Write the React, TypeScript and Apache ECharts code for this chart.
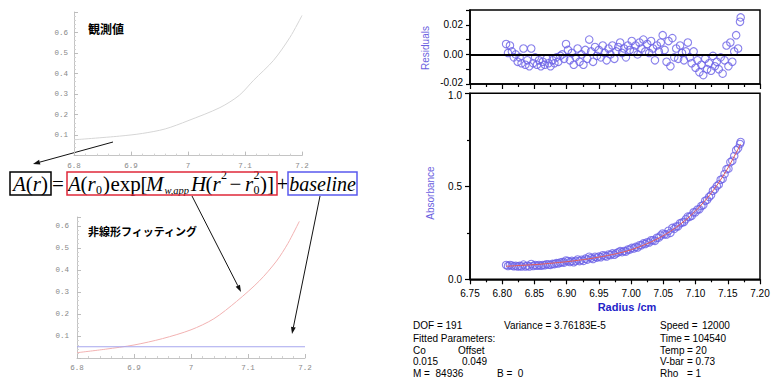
import React, { useEffect, useRef } from 'react';
import * as echarts from 'echarts';

// ---- Right panel: measured points (radius /cm, absorbance, residuals) ----
const radius = [
  6.806, 6.809, 6.812, 6.815, 6.818, 6.821, 6.824, 6.827, 6.830, 6.833,
  6.836, 6.839, 6.842, 6.845, 6.848, 6.851, 6.854, 6.857, 6.860, 6.863,
  6.866, 6.869, 6.872, 6.875, 6.878, 6.881, 6.884, 6.887, 6.890, 6.893,
  6.896, 6.899, 6.902, 6.905, 6.908, 6.911, 6.914, 6.917, 6.920, 6.923,
  6.926, 6.929, 6.932, 6.935, 6.938, 6.941, 6.944, 6.947, 6.950, 6.953,
  6.956, 6.959, 6.962, 6.965, 6.968, 6.971, 6.974, 6.977, 6.980, 6.983,
  6.986, 6.989, 6.992, 6.995, 6.998, 7.001, 7.004, 7.007, 7.010, 7.013,
  7.016, 7.019, 7.022, 7.025, 7.028, 7.031, 7.034, 7.037, 7.040, 7.043,
  7.046, 7.049, 7.052, 7.055, 7.058, 7.061, 7.064, 7.067, 7.070, 7.073,
  7.076, 7.079, 7.082, 7.085, 7.088, 7.091, 7.094, 7.097, 7.100, 7.103,
  7.106, 7.109, 7.112, 7.115, 7.118, 7.121, 7.124, 7.127, 7.130, 7.133,
  7.136, 7.139, 7.142, 7.145, 7.148, 7.151, 7.154, 7.157, 7.160, 7.163,
  7.166, 7.169, 7.170,
];
const absorbance = [
  0.077, 0.072, 0.077, 0.074, 0.070, 0.073, 0.069, 0.072, 0.069, 0.079,
  0.069, 0.073, 0.069, 0.082, 0.072, 0.077, 0.073, 0.077, 0.073, 0.077,
  0.076, 0.081, 0.079, 0.078, 0.083, 0.082, 0.087, 0.085, 0.090, 0.092,
  0.090, 0.101, 0.098, 0.093, 0.099, 0.092, 0.098, 0.106, 0.098, 0.105,
  0.099, 0.111, 0.106, 0.121, 0.114, 0.109, 0.121, 0.117, 0.122, 0.119,
  0.129, 0.126, 0.123, 0.133, 0.131, 0.139, 0.132, 0.140, 0.145, 0.151,
  0.146, 0.152, 0.149, 0.160, 0.160, 0.169, 0.166, 0.174, 0.171, 0.183,
  0.183, 0.193, 0.190, 0.199, 0.198, 0.210, 0.210, 0.207, 0.223, 0.224,
  0.235, 0.246, 0.242, 0.241, 0.261, 0.250, 0.276, 0.271, 0.284, 0.285,
  0.301, 0.305, 0.308, 0.323, 0.337, 0.336, 0.342, 0.360, 0.360, 0.375,
  0.377, 0.394, 0.399, 0.422, 0.427, 0.443, 0.452, 0.476, 0.484, 0.501,
  0.510, 0.535, 0.540, 0.566, 0.592, 0.595, 0.630, 0.637, 0.663, 0.694,
  0.704, 0.727, 0.738,
];
const residuals = [
  0.007, 0.001, 0.006, 0.002, -0.002, 0.000, -0.005, -0.002, -0.006, 0.004,
  -0.007, -0.004, -0.008, 0.004, -0.006, -0.002, -0.007, -0.004, -0.008, -0.005,
  -0.007, -0.003, -0.006, -0.008, -0.004, -0.006, -0.002, -0.005, -0.001, 0.000,
  -0.003, 0.007, 0.003, -0.004, 0.001, -0.007, -0.002, 0.004, -0.005, 0.000,
  -0.007, 0.003, -0.003, 0.010, 0.002, -0.005, 0.005, -0.001, 0.003, -0.002,
  0.006, 0.001, -0.004, 0.004, 0.000, 0.006, -0.003, 0.002, 0.005, 0.008,
  0.001, 0.004, -0.002, 0.006, 0.003, 0.009, 0.002, 0.006, 0.000, 0.008,
  0.004, 0.010, 0.002, 0.007, 0.001, 0.009, 0.004, -0.004, 0.006, 0.002,
  0.008, 0.013, 0.003, -0.005, 0.009, -0.008, 0.011, -0.002, 0.004, -0.003,
  0.006, 0.001, -0.004, 0.002, 0.008, -0.002, -0.006, 0.002, -0.009, -0.004,
  -0.012, -0.007, -0.014, -0.003, -0.010, -0.006, -0.011, -0.001, -0.008, -0.005,
  -0.010, -0.002, -0.013, -0.004, 0.006, -0.008, 0.008, -0.005, 0.002, 0.013,
  0.004, 0.022, 0.025,
];
// fitted curve (red line) in the right panel
const fitRadius = [6.806, 6.821, 6.836, 6.851, 6.866, 6.881, 6.896, 6.911, 6.926, 6.941, 6.956, 6.971, 6.986,
  7.001, 7.016, 7.031, 7.046, 7.061, 7.076, 7.091, 7.106, 7.121, 7.136, 7.151, 7.166, 7.170];
const fitAbs = [0.070, 0.073, 0.076, 0.079, 0.083, 0.088, 0.093, 0.099, 0.106, 0.114, 0.123, 0.133, 0.145,
  0.160, 0.179, 0.201, 0.227, 0.258, 0.295, 0.338, 0.389, 0.449, 0.520, 0.603, 0.700, 0.728];

// ---- Left panels ----
const obsRadius = [6.8, 6.88, 6.92, 6.96, 7.0, 7.056, 7.09, 7.115, 7.15, 7.179, 7.2];
const obsValue = [0.077, 0.095, 0.108, 0.13, 0.17, 0.234, 0.294, 0.367, 0.464, 0.577, 0.683];
const nlRadius = [6.8, 6.85, 6.9, 6.95, 7.0, 7.04, 7.08, 7.12, 7.15, 7.17, 7.19];
const nlValue = [0.024, 0.04, 0.059, 0.088, 0.128, 0.178, 0.257, 0.35, 0.44, 0.52, 0.62];
const baseRadius = [6.8, 7.2];
const baseValue = [0.051, 0.051];

// ---- Fit report text ----
const reportLeft = [
  ['DOF = 191', 413, 325.5], ['Variance = 3.76183E-5', 504, 325.5],
  ['Fitted Parameters:', 413, 338],
  ['Co', 413, 350], ['Offset', 458, 350],
  ['0.015', 413, 361.5], ['0.049', 462, 361.5],
  ['M =  84936', 413, 373.5], ['B =  0', 497, 373.5],
];
const reportRight = [
  ['Speed =', '12000', 325.5, 702],
  ['Time', '= 104540', 338, 684],
  ['Temp', '= 20', 350, 687],
  ['V-bar', '= 0.73', 361.5, 687],
  ['Rho', '= 1', 373.5, 687],
];

const zip = (a: number[], b: number[]) => a.map((v, i) => [v, b[i]]);

const SERIF = '"Liberation Serif", "Times New Roman", serif';
const SANS = '"Liberation Sans", Arial, sans-serif';

function txt(text: string, x: number, y: number, font: string, fill = '#000', align = 'left', extra: any = {}) {
  return { type: 'text', x, y, silent: true, ...extra, style: { text, font, fill, align, verticalAlign: 'middle' } };
}

function arrow(x1: number, y1: number, x2: number, y2: number) {
  const a = Math.atan2(y2 - y1, x2 - x1);
  const L = 7, W = 2.4;
  const bx = x2 - L * Math.cos(a), by = y2 - L * Math.sin(a);
  const px = -Math.sin(a) * W, py = Math.cos(a) * W;
  return [
    { type: 'line', silent: true, shape: { x1, y1, x2: bx, y2: by }, style: { stroke: '#111', lineWidth: 1 } },
    { type: 'polygon', silent: true, shape: { points: [[x2, y2], [bx + px, by + py], [bx - px, by - py]] }, style: { fill: '#111' } },
  ];
}

function formulaGraphics() {
  const it = (s: number) => `italic ${s}px ${SERIF}`;
  const rg = (s: number) => `${s}px ${SERIF}`;
  const M = 183.5;
  const pieces: any[] = [
    // A(r)
    txt('A', 13, M, it(21)), txt('(', 25.8, M, rg(21)), txt('r', 32.8, M, it(21)), txt(')', 41, M, rg(21)),
    txt('=', 58, M, rg(21), '#000', 'center'),
    // A(r0) exp[M_{w,app} H(r^2 - r0^2)]
    txt('A', 68, M, it(21)), txt('(', 80.5, M, rg(21)), txt('r', 87.5, M, it(21)), txt('0', 96, 190, rg(12)),
    txt(')', 103, M, rg(21)), txt('exp', 110.5, M, rg(21)), txt('[', 140.5, M, rg(21)),
    txt('M', 146, M, it(21)), txt('w,app', 164.5, 190, it(10.5)),
    txt('H', 191, M, it(21)), txt('(', 205.5, M, rg(21)), txt('r', 212.5, M, it(21)), txt('2', 221, 175, rg(12)),
    txt('\u2212', 229.5, M, rg(21)), txt('r', 245, M, it(21)), txt('2', 253.5, 175, rg(12)), txt('0', 253.5, 190, rg(12)),
    txt(')', 260, M, rg(21)), txt(']', 267, M, rg(21)),
    txt('+', 282.5, M, rg(21), '#000', 'center'),
    txt('baseline', 322.5, M, it(20), '#000', 'center'),
    { type: 'rect', silent: true, shape: { x: 10, y: 172, width: 41, height: 23 }, style: { fill: 'none', stroke: '#000', lineWidth: 1.5 } },
    { type: 'rect', silent: true, shape: { x: 67, y: 172, width: 210, height: 23 }, style: { fill: 'none', stroke: '#e0283a', lineWidth: 1.5 } },
    { type: 'rect', silent: true, shape: { x: 288, y: 172, width: 69, height: 23 }, style: { fill: 'none', stroke: '#5a5aee', lineWidth: 1.5 } },
  ];
  return pieces;
}

export default function App() {
  const ref = useRef<HTMLDivElement>(null);
  useEffect(() => {
    if (!ref.current) return;
    const chart = echarts.init(ref.current, undefined, { renderer: 'svg' });

    const mathAxis = (extra: any) => ({
      axisLine: { show: true, onZero: false, lineStyle: { color: '#c4c4c4', width: 1 } },
      axisTick: { show: true, inside: true, length: 4, lineStyle: { color: '#bdbdbd' } },
      minorTick: { show: true, splitNumber: 5, length: 2, lineStyle: { color: '#d2d2d2' } },
      splitLine: { show: false },
      ...extra,
    });
    const mathLabel = (margin: number, extra: any = {}) => ({
      fontFamily: '"Liberation Mono", "DejaVu Sans Mono", monospace', fontSize: 7.5, color: '#888', margin, ...extra,
    });

    const blackAxis = (extra: any) => ({
      axisLine: { show: true, onZero: false, lineStyle: { color: '#000', width: 1.5 } },
      axisTick: { show: true, inside: false, length: 5, lineStyle: { color: '#000', width: 1.2 } },
      minorTick: { show: true, splitNumber: 2, length: 3, lineStyle: { color: '#000', width: 1.2 } },
      splitLine: { show: false },
      ...extra,
    });

    const option: any = {
      animation: false,
      backgroundColor: '#fff',
      grid: [
        { left: 74, top: 12, width: 228, height: 143.6 },
        { left: 77, top: 217, width: 228, height: 141 },
        { left: 470, top: 10, width: 290, height: 74, show: true, borderColor: '#000', borderWidth: 1.5 },
        { left: 470, top: 93.3, width: 290, height: 186, show: true, borderColor: '#000', borderWidth: 1.5 },
      ],
      xAxis: [
        mathAxis({ type: 'value', gridIndex: 0, min: 6.8, max: 7.2, interval: 0.1, axisLabel: mathLabel(6) }),
        mathAxis({ type: 'value', gridIndex: 1, min: 6.8, max: 7.2, interval: 0.1, axisLabel: mathLabel(6) }),
        blackAxis({ type: 'value', gridIndex: 2, min: 6.75, max: 7.2, interval: 0.05, axisLabel: { show: false } }),
        blackAxis({
          type: 'value', gridIndex: 3, min: 6.75, max: 7.2, interval: 0.05,
          axisLabel: { fontFamily: SANS, fontSize: 10, color: '#000', margin: 9, formatter: (v: number) => v.toFixed(2) },
        }),
      ],
      yAxis: [
        mathAxis({ type: 'value', gridIndex: 0, min: 0, max: 0.7, interval: 0.1,
          axisLabel: mathLabel(6, { showMinLabel: false, showMaxLabel: false }) }),
        mathAxis({ type: 'value', gridIndex: 1, min: 0, max: 0.64, interval: 0.1,
          axisLabel: mathLabel(8, { showMinLabel: false, showMaxLabel: false }) }),
        blackAxis({
          type: 'value', gridIndex: 2, min: -0.02, max: 0.03, interval: 0.01,
          minorTick: { show: false },
          axisTick: { show: true, inside: false, length: 4, lineStyle: { color: '#000', width: 1.2 } },
          axisLabel: {
            fontFamily: SANS, fontSize: 10, color: '#000', margin: 7,
            formatter: (v: number) => {
              const k = Math.round(v * 100);
              if (k % 2 !== 0 || k > 2) return '';
              if (k === -2) return '{lo|-0.02}';
              return k === 0 ? '0.00' : (k / 100).toFixed(2);
            },
            rich: { lo: { fontFamily: SANS, fontSize: 10, color: '#000', padding: [0, 0, 3, 0] } },
          },
        }),
        blackAxis({
          type: 'value', gridIndex: 3, min: 0, max: 1, interval: 0.5,
          axisLabel: {
            fontFamily: SANS, fontSize: 10, color: '#000', margin: 8,
            formatter: (v: number) => (v > 0.99 ? '{hi|1.0}' : v.toFixed(1)),
            rich: { hi: { fontFamily: SANS, fontSize: 10, color: '#000', padding: [4, 0, 0, 0] } },
          },
        }),
      ],
      series: [
        {
          type: 'line', xAxisIndex: 0, yAxisIndex: 0, data: zip(obsRadius, obsValue), symbol: 'none', smooth: 0.3,
          lineStyle: { color: '#d6d6d6', width: 1 }, silent: true,
        },
        {
          type: 'line', xAxisIndex: 1, yAxisIndex: 1, data: zip(nlRadius, nlValue), symbol: 'none', smooth: 0.3,
          lineStyle: { color: '#f2b2b2', width: 1 }, silent: true,
        },
        {
          type: 'line', xAxisIndex: 1, yAxisIndex: 1, data: zip(baseRadius, baseValue), symbol: 'none',
          lineStyle: { color: '#a6a6ee', width: 1.2 }, silent: true,
        },
        {
          type: 'scatter', xAxisIndex: 2, yAxisIndex: 2, data: zip(radius, residuals), symbol: 'circle', symbolSize: 7.5,
          itemStyle: { color: 'rgba(255,255,255,0)', borderColor: '#6a60e6', borderWidth: 1.1 }, silent: true, z: 3,
          markLine: {
            silent: true, symbol: 'none', label: { show: false },
            lineStyle: { color: '#000', width: 2, type: 'solid' },
            data: [{ yAxis: 0 }],
          },
        },
        {
          type: 'scatter', xAxisIndex: 3, yAxisIndex: 3, data: zip(radius, absorbance), symbol: 'circle', symbolSize: 7.5,
          itemStyle: { color: 'rgba(255,255,255,0)', borderColor: '#6a60e6', borderWidth: 1.1 }, silent: true, z: 3,
        },
        {
          type: 'line', xAxisIndex: 3, yAxisIndex: 3, data: zip(fitRadius, fitAbs), symbol: 'none', smooth: 0.3,
          lineStyle: { color: '#e05a5a', width: 1 }, silent: true, z: 4,
        },
      ],
      graphic: [
        txt('観測値', 88, 28, 'bold 12px "Noto Sans CJK JP"'),
        txt('非線形フィッティング', 88, 231, 'bold 11px "Noto Sans CJK JP"'),
        ...formulaGraphics(),
        ...arrow(113, 142, 33, 164),
        ...arrow(192, 196, 241, 292),
        ...arrow(320, 196, 292, 334),
        txt('Residuals', 425, 48, `10px ${SANS}`, '#6a60e0', 'center', { rotation: Math.PI / 2 }),
        txt('Absorbance', 430, 193, `10px ${SANS}`, '#6a60e0', 'center', { rotation: Math.PI / 2 }),
        txt('Radius /cm', 627, 307, `bold 11px ${SANS}`, '#2323c8', 'center'),
        ...reportLeft.map(([t, x, y]) => txt(t as string, x as number, y as number, `10px ${SANS}`)),
        ...reportRight.flatMap(([a, b, y, x2]) => [
          txt(a as string, 660, y as number, `10px ${SANS}`),
          txt(b as string, x2 as number, y as number, `10px ${SANS}`),
        ]),
      ],
    };
    chart.setOption(option);
    return () => chart.dispose();
  }, []);
  return <div ref={ref} style={{ position: 'absolute', left: 0, top: 0, width: 780, height: 388 }} />;
}
